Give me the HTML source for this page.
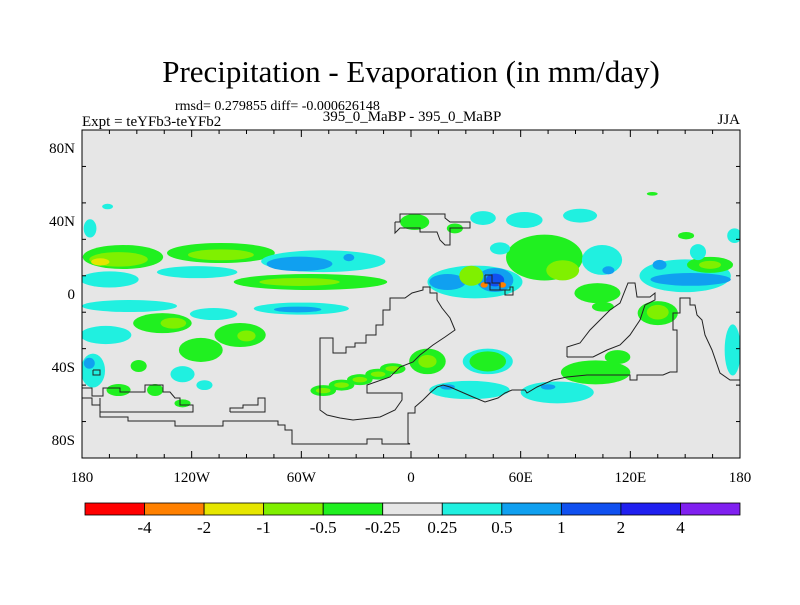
<!DOCTYPE html>
<html><head><meta charset="utf-8"><style>
body{margin:0;background:#fff;}
svg text{font-family:"Liberation Serif",serif;fill:#000;}
</style></head><body>
<svg id="chart" width="800" height="600" xmlns="http://www.w3.org/2000/svg">
<text x="411" y="82" font-size="31" text-anchor="middle">Precipitation - Evaporation (in mm/day)</text>
<text x="175" y="110" font-size="14">rmsd= 0.279855 diff= -0.000626148</text>
<text x="82" y="126" font-size="15">Expt = teYFb3-teYFb2</text>
<text x="412" y="121" font-size="15" text-anchor="middle">395_0_MaBP - 395_0_MaBP</text>
<text x="740" y="124" font-size="15" text-anchor="end">JJA</text>
<defs><clipPath id="pc"><rect x="82" y="130" width="658" height="328"/></clipPath></defs>
<rect x="82" y="130" width="658" height="328" fill="#e6e6e6"/>
<g id="blobs" clip-path="url(#pc)"></g>
<g id="coast" clip-path="url(#pc)" fill="none" stroke="#222" stroke-width="1"></g>
<rect x="82" y="130" width="658" height="328" fill="none" stroke="#000"/>
<g id="axes"></g>
<g id="cbar"></g>
</svg>
<script>
const lonTicks=[-180,-120,-60,0,60,120,180];
const lonLabels=["180","120W","60W","0","60E","120E","180"];
const latTicks=[80,40,0,-40,-80];
const latLabels=["80N","40N","0","40S","80S"];
const levels=["-4","-2","-1","-0.5","-0.25","0.25","0.5","1","2","4"];
const colors=["#ff0000","#ff8000","#e6e600","#80f000","#20f020","#e6e6e6","#20f0e0","#10a0f0","#1050f0","#2020f0","#8020f0"];
// anomaly regions: centre lon, centre lat, half-width (deg), half-height (deg), colour class
const blobLon=[-157.6,-160,-170,-104,-104,-117,-165,-48,-61,-34,-55,-61,-154,-108,-60,-62,-136,-130,-93.5,-90,-167,-174,-176,-115,-149,-125,-113,-160,-140,-125,-48,-38,-28,-18,-10,-48,-38,-28,-18,-10,2,24,39.4,62,92.5,73,83,48.7,35,20,46,33,46,40,50,102,105,104.5,108,150,153,136,163.6,163.6,150.5,157,177,176,135,135,113,101,42,42,9,9,32,80,75,20,132,-166,-175.6];
const blobLat=[20.3,19,17.6,22.5,21.5,12,8,18,16.5,20,6.6,6.6,-6.6,-11,-8,-8.5,-16,-16,-22.5,-23,-22.5,-42,-38,-30.7,-39.5,-44,-50,-52.7,-52.7,-60,-53,-50,-47,-44,-41,-53,-50,-47,-44,-41,39.5,36,41.7,40.6,43,20,13,25,6.6,6.6,7.7,10,7.7,5,5,0.5,-7,18.7,13,10,8,16,16,16,32,23,32,-30.7,-10.5,-10,-34.6,-43,-37,-37,-37,-37,-52.7,-54,-51,-51,55,48,36];
const blobRx=[22,16,5,29.5,18,22,16,34,18,3,42,22,26,13,26,13,16,7,14,5,14,6.6,3,12,4.4,6.6,4.4,6.6,4.4,4.4,7,7,7,7,7,4,4,4,4,4,8,4.4,7,10,9.3,21,9,5.5,26,10,10,6.6,5,2,2,12.6,6,11,3.3,25,22,3.8,12.6,6,4.4,4.4,4,4.4,11,6,7,19,13.7,10,10,5,22,20,4,4,3,3,3.5];
const blobRy=[6.6,4,2,5.5,3,3.3,4.4,6,4,2,4.4,2.2,3.3,3.3,3.3,1.6,5.5,3,6.6,3,5,9.3,3,6.6,3.3,4.4,2.7,3.3,3.3,2.2,3,3,3,3,3,1.5,1.5,1.5,1.5,1.5,4.4,2.7,3.8,4.4,3.8,12.6,5.5,3.3,9,4.4,6.6,5.5,3.5,1.5,1.5,5.5,2.7,8.2,2.2,9,3.5,2.7,4.4,2.2,2,4.4,4,14,6.6,4,3.8,6.6,7,5.5,7,3.5,5,6,1.5,1.5,1,1.5,5];
const blobC=[4,3,2,4,3,6,6,6,7,7,4,3,6,6,6,7,4,3,4,3,6,6,7,4,4,6,6,4,4,4,4,4,4,4,4,3,3,3,3,3,4,4,6,6,6,4,3,6,6,7,7,3,8,1,1,4,4,6,7,6,7,7,4,3,4,6,6,6,4,3,4,4,6,4,4,3,6,6,7,7,4,6,6];
const X=lon=>82+(lon+180)*658/360;
const Y=lat=>130+(90-lat)*328/180;
const NS="http://www.w3.org/2000/svg";
function mk(t,a,p){const e=document.createElementNS(NS,t);for(const k in a)e.setAttribute(k,a[k]);p.appendChild(e);return e;}
const bg=document.getElementById('blobs');
for(let i=0;i<blobLon.length;i++){
 const e=mk('ellipse',{cx:X(blobLon[i]),cy:Y(blobLat[i]),rx:blobRx[i]*658/360,ry:blobRy[i]*328/180,fill:colors[blobC[i]]},bg);
 
 
}
// land outline geometry (screen px)
const coastLines=[
 "82,398 92,398 92,405 100,405 100,417 128,417 128,421 175,421 175,426 223,426 223,421 278,421 278,425 285,425 285,430 292,430 292,444 367,444 367,439 382,439 382,444 410,444 408,443 408,413 415,413 415,407 423,400 430,393 437,387 443,385 450,387 473,397 485,402 498,398 505,393 512,390 525,390 527,393 537,387 553,380 567,377 587,375 630,375 630,380 637,380 637,375 663,375 670,372 677,372 677,330 673,330 673,313 680,313 680,298 690,298 690,305 695,305 697,315 702,320 705,335 712,350 720,373 730,380 740,380",
 "567,357 567,347 580,343 590,330 600,320 610,310 620,303 628,283 635,283 637,297 650,297 655,293 655,300 645,305 640,320 630,335 620,345 607,350 593,357 567,357",
 "320,367 320,338 333,338 333,353 346,353 346,347 355,347 355,343 366,343 366,335 376,335 376,325 383,325 383,310 390,310 390,298 405,298 412,293 423,290 423,287 430,287 430,293 437,293 437,300 442,308 450,318 455,330 445,337 433,345 420,355 413,362 400,367 390,377 367,385 367,393 402,393 402,400 395,410 380,417 353,420 340,418 327,415 320,410 320,367",
 "395,222 400,222 400,214 445,214 445,218 450,222 470,222 470,228 450,228 450,245 445,245 440,240 437,232 420,232 420,228 400,228 395,233 395,222",
 "485,275 492,275 492,283 500,283 500,290 510,290 510,287 513,287 513,295 505,295 505,290 490,290 490,283 485,283 485,275",
 "82,388 92,388 92,396 103,396 103,388 120,388 120,392 145,392 145,385 163,385 163,392 170,392 175,398 180,398 180,405 193,405 193,412 100,412 100,398",
 "230,412 230,408 243,408 243,405 258,405 258,398 265,398 265,412 230,412",
 "93,370 100,370 100,375 93,375 93,370"
];
const cg=document.getElementById('coast');
coastLines.forEach(l=>{const p=mk('polyline',{points:l},cg);
 
 });
const ag=document.getElementById('axes');
for(let lon=-180;lon<=180;lon+=15){const mj=lon%60===0;
 mk('line',{x1:X(lon),x2:X(lon),y1:130,y2:130+(mj?7:4),stroke:'#000'},ag);
 mk('line',{x1:X(lon),x2:X(lon),y1:458,y2:458-(mj?7:4),stroke:'#000'},ag);}
for(let lat=-90;lat<=90;lat+=20){const mj=(lat+80)%40===0&&lat!==90&&lat!==-90;
 mk('line',{x1:82,x2:82+(mj?7:4),y1:Y(lat),y2:Y(lat),stroke:'#000'},ag);
 mk('line',{x1:740,x2:740-(mj?7:4),y1:Y(lat),y2:Y(lat),stroke:'#000'},ag);}
lonTicks.forEach((v,i)=>{const t=mk('text',{x:X(v),y:482,'font-size':15,'text-anchor':'middle'},ag);t.textContent=lonLabels[i];
 });
latTicks.forEach((v,i)=>{const t=mk('text',{x:75,y:Y(v)+5,'font-size':15,'text-anchor':'end'},ag);t.textContent=latLabels[i];
 });
const cb=document.getElementById('cbar');const w=(740-85)/colors.length;
colors.forEach((c,i)=>{const r=mk('rect',{x:85+i*w,y:503,width:w,height:12,fill:c,stroke:'#000','stroke-width':0.8},cb);
 });
levels.forEach((l,i)=>{const t=mk('text',{x:85+(i+1)*w,y:533,'font-size':17,'text-anchor':'middle'},cb);t.textContent=l;
 });
</script>
</body></html>
